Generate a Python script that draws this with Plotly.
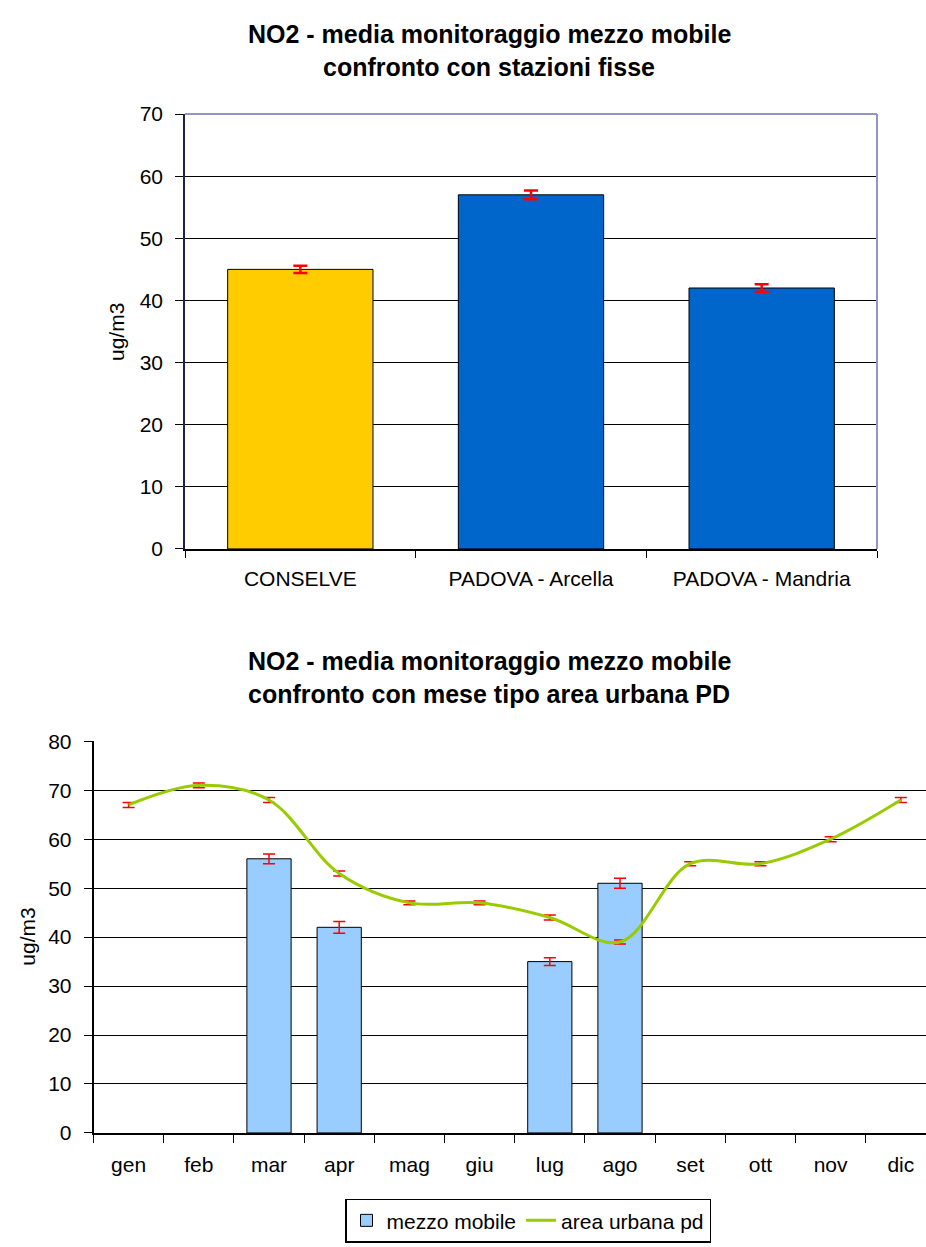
import plotly.graph_objects as go

# ---- Top chart data ----
stations = ["CONSELVE", "PADOVA - Arcella", "PADOVA - Mandria"]
station_values = [45, 57, 42]
station_errors = [0.6, 0.7, 0.6]
station_colors = ["#FFCC00", "#0066CC", "#0066CC"]
top_yticks = [0, 10, 20, 30, 40, 50, 60, 70]

# ---- Bottom chart data ----
months = ["gen", "feb", "mar", "apr", "mag", "giu", "lug", "ago", "set", "ott", "nov", "dic"]
mobile_values = [None, None, 56, 42, None, None, 35, 51, None, None, None, None]
mobile_errors = [0, 0, 1.0, 1.2, 0, 0, 0.8, 1.0, 0, 0, 0, 0]
urban_values = [67, 71, 68, 53, 47, 47, 44, 39, 55, 55, 60, 68]
urban_errors = [0.5, 0.5, 0.5, 0.5, 0.4, 0.4, 0.5, 0.4, 0.4, 0.4, 0.5, 0.5]
bottom_yticks = [0, 10, 20, 30, 40, 50, 60, 70, 80]

FONT = "Liberation Sans, Arial, sans-serif"
W, H = 926, 1247
TICK_SIZE = 21
TITLE_SIZE = 25


def px_x(x):
    return x / W


def px_y(y):
    return 1 - y / H


fig = go.Figure()

fig.add_trace(go.Bar(
    x=stations, y=station_values,
    marker=dict(color=station_colors, line=dict(color="black", width=1)),
    error_y=dict(type="data", array=station_errors, color="red", thickness=2.5, width=7),
    xaxis="x", yaxis="y", showlegend=False,
))

fig.add_trace(go.Bar(
    x=months, y=mobile_values, name="mezzo mobile",
    marker=dict(color="#99CCFF", line=dict(color="black", width=1)),
    error_y=dict(type="data", array=mobile_errors, color="red", thickness=1.5, width=6),
    xaxis="x2", yaxis="y2",
))

fig.add_trace(go.Scatter(
    x=months, y=urban_values, name="area urbana pd", mode="lines",
    line=dict(color="#99CC00", width=3, shape="spline", smoothing=1.0),
    error_y=dict(type="data", array=urban_errors, color="red", thickness=1.5, width=6),
    xaxis="x2", yaxis="y2",
))

top_l, top_r, top_t, top_b = 185, 877, 104, 547
bot_l, bot_r, bot_t, bot_b = 93.5, 926, 743, 1142
cat_w = 70.2
bot_max = -0.5 + (bot_r - bot_l) / cat_w

fig.update_layout(
    width=W, height=H,
    margin=dict(l=0, r=0, t=0, b=0),
    paper_bgcolor="white", plot_bgcolor="white",
    font=dict(family=FONT, size=TICK_SIZE, color="black"),
    bargap=0.37,
    xaxis=dict(
        domain=[px_x(top_l), px_x(top_r)], anchor="y",
        type="category", tickson="boundaries", ticks="outside", ticklen=7,
        tickcolor="black", showline=True, linecolor="black", linewidth=1.5,
        showgrid=False, ticklabelstandoff=10, tickfont=dict(size=TICK_SIZE),
    ),
    yaxis=dict(
        domain=[px_y(top_b), px_y(top_t)], anchor="x",
        range=[0, 70], tickvals=top_yticks, ticks="outside", ticklen=8,
        tickcolor="black", showline=True, linecolor="#202040", linewidth=1.5,
        showgrid=True, gridcolor="black", gridwidth=1, zeroline=False,
        tickfont=dict(size=TICK_SIZE), ticklabelstandoff=8,
    ),
    xaxis2=dict(
        domain=[px_x(bot_l), px_x(bot_r)], anchor="y2",
        type="category", range=[-0.5, bot_max], tickson="boundaries", ticks="outside",
        ticklen=8, tickcolor="black", showline=True, linecolor="black", linewidth=1.5,
        showgrid=False, ticklabelstandoff=12, tickfont=dict(size=TICK_SIZE),
    ),
    yaxis2=dict(
        domain=[px_y(bot_b), px_y(bot_t)], anchor="x2",
        range=[0, 80], tickvals=bottom_yticks, ticks="outside", ticklen=8,
        tickcolor="black", showline=True, linecolor="black", linewidth=1.5,
        showgrid=True, gridcolor="black", gridwidth=1, zeroline=False,
        tickfont=dict(size=TICK_SIZE), ticklabelstandoff=8,
    ),
    legend=dict(
        orientation="h", x=px_x(528), xanchor="center", y=px_y(1209), yanchor="top",
        bordercolor="black", borderwidth=1.5, font=dict(size=TICK_SIZE),
        traceorder="normal", itemwidth=30, tracegroupgap=0,
    ),
    shapes=[
        dict(type="line", xref="paper", yref="paper",
             x0=px_x(top_l), x1=px_x(top_r), y0=px_y(top_t), y1=px_y(top_t),
             line=dict(color="#9494C4", width=2)),
        dict(type="line", xref="paper", yref="paper",
             x0=px_x(top_r), x1=px_x(top_r), y0=px_y(top_t), y1=px_y(top_b),
             line=dict(color="#9494C4", width=2)),
    ],
    annotations=[
        dict(text="<b>NO2 - media monitoraggio mezzo mobile</b>",
             xref="paper", yref="paper", x=px_x(489), y=px_y(22), xanchor="center", yanchor="middle",
             showarrow=False, font=dict(size=TITLE_SIZE)),
        dict(text="<b>confronto con stazioni fisse</b>",
             xref="paper", yref="paper", x=px_x(489), y=px_y(56), xanchor="center", yanchor="middle",
             showarrow=False, font=dict(size=TITLE_SIZE)),
        dict(text="<b>NO2 - media monitoraggio mezzo mobile</b>",
             xref="paper", yref="paper", x=px_x(489), y=px_y(661), xanchor="center", yanchor="middle",
             showarrow=False, font=dict(size=TITLE_SIZE)),
        dict(text="<b>confronto con mese tipo area urbana PD</b>",
             xref="paper", yref="paper", x=px_x(489), y=px_y(695), xanchor="center", yanchor="middle",
             showarrow=False, font=dict(size=TITLE_SIZE)),
        dict(text="ug/m3", xref="paper", yref="paper", x=px_x(117), y=px_y(326),
             xanchor="center", yanchor="middle", textangle=-90, showarrow=False,
             font=dict(size=TICK_SIZE)),
        dict(text="ug/m3", xref="paper", yref="paper", x=px_x(28), y=px_y(942),
             xanchor="center", yanchor="middle", textangle=-90, showarrow=False,
             font=dict(size=TICK_SIZE)),
    ],
)

fig.write_html(
    "out.html",
    config={"displayModeBar": False},
    post_script="document.body.style.margin='0';document.body.style.overflow='hidden';",
)
